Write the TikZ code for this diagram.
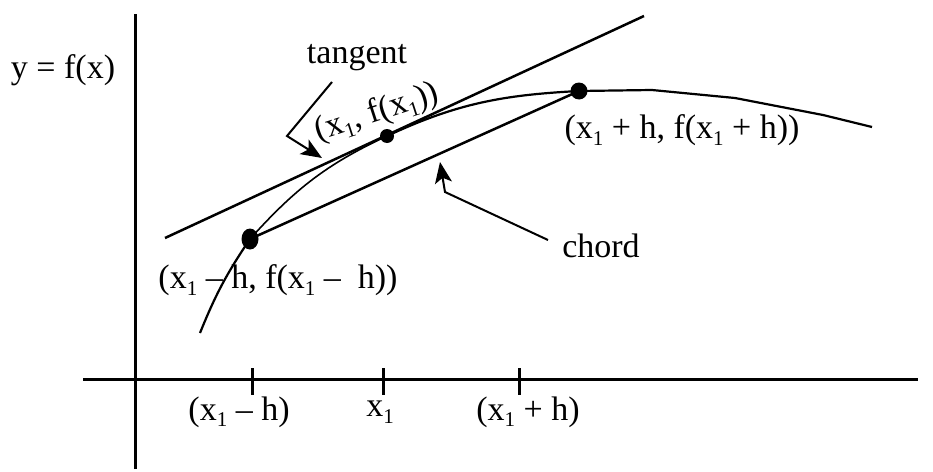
\documentclass[tikz,border=0pt]{standalone}
\usepackage{fontspec}
\setmainfont{Liberation Serif}
\usetikzlibrary{arrows.meta,shapes.geometric}
\newcommand{\xone}{x\raisebox{-0.2em}{\fontsize{21}{21}\selectfont 1}}
\begin{document}
\begin{tikzpicture}[x=1pt,y=-1pt,
  font=\fontsize{34}{40}\selectfont,
  axisline/.style={line width=3pt},
  straight/.style={line width=2.5pt},
  curveline/.style={line width=2.2pt,line join=round},
  thincurve/.style={line width=1.6pt},
  lbl/.style={inner sep=0pt},
  pointer/.style={line width=2pt,line join=miter,-{Stealth[length=21pt,width=17pt,inset=5pt]}}]
\useasboundingbox (0,0) rectangle (933,471);
% axes
\coordinate (ytop) at (135,14);
\coordinate (ybot) at (135,469);
\coordinate (xleft) at (83,379);
\coordinate (xright) at (918,379);
\draw[axisline] (ybot) -- (ytop);
\draw[axisline] (xleft) -- (xright);
% ticks
\coordinate (t1a) at (252,368); \coordinate (t1b) at (252,395);
\coordinate (t2a) at (383,368); \coordinate (t2b) at (383,395);
\coordinate (t3a) at (519,368); \coordinate (t3b) at (519,395);
\draw[axisline] (t1a) -- (t1b);
\draw[axisline] (t2a) -- (t2b);
\draw[axisline] (t3a) -- (t3b);
% tick labels
\node[lbl] (lab1) at (239,412) {(\xone\ – h)};
\node[lbl] (lab2) at (380,412) {\xone};
\node[lbl] (lab3) at (528,412) {(\xone\ + h)};
\node[lbl] (ylab) at (63,70) {y = f(x)};
% points
\node[ellipse,fill=black,inner sep=0pt,minimum width=17pt,minimum height=21pt] (dL) at (250,239) {};
\node[circle,fill=black,inner sep=0pt,minimum size=14pt] (dM) at (387,136) {};
\node[circle,fill=black,inner sep=0pt,minimum size=17pt] (dR) at (579,91) {};
% curve
\coordinate (c0) at (200,333);
\coordinate (c1) at (652,90);
\coordinate (c2) at (735,98);
\coordinate (c3) at (823,115);
\coordinate (c4) at (872,127);
\draw[curveline] (c0) to[out=68,in=236] (dL.center);
\draw[thincurve] (dL.center) to[out=48,in=205] (dM.center);
\draw[curveline] (dM.center) to[out=25,in=183] (dR.center) -- (c1) -- (c2) -- (c3) -- (c4);
% tangent and chord
\coordinate (tA) at (165,238);
\coordinate (tB) at (644,16);
\draw[straight] (tA) -- (tB);
\draw[straight] (dL.center) -- (dR.center);
% labels
\node[lbl] (tanlab) at (357,58) {tangent};
\node[lbl,rotate=18] (mlab) at (377,113) {(\xone, f(\xone))};
\node[lbl] (llab) at (278,280) {(\xone\ – h, f(\xone\ –\ \ h))};
\node[lbl] (rlab) at (682,130) {(\xone\ + h, f(\xone\ + h))};
\node[lbl] (chordlab) at (601,246) {chord};
% pointers
\coordinate (pa0) at (332,82);
\coordinate (pa1) at (287,136);
\coordinate (pa2) at (322,158);
\draw[pointer] (pa0) -- (pa1) -- (pa2);
\coordinate (pb0) at (548,240);
\coordinate (pb1) at (445,192);
\coordinate (pb2) at (440,162);
\draw[pointer] (pb0) -- (pb1) -- (pb2);
\end{tikzpicture}
\end{document}
